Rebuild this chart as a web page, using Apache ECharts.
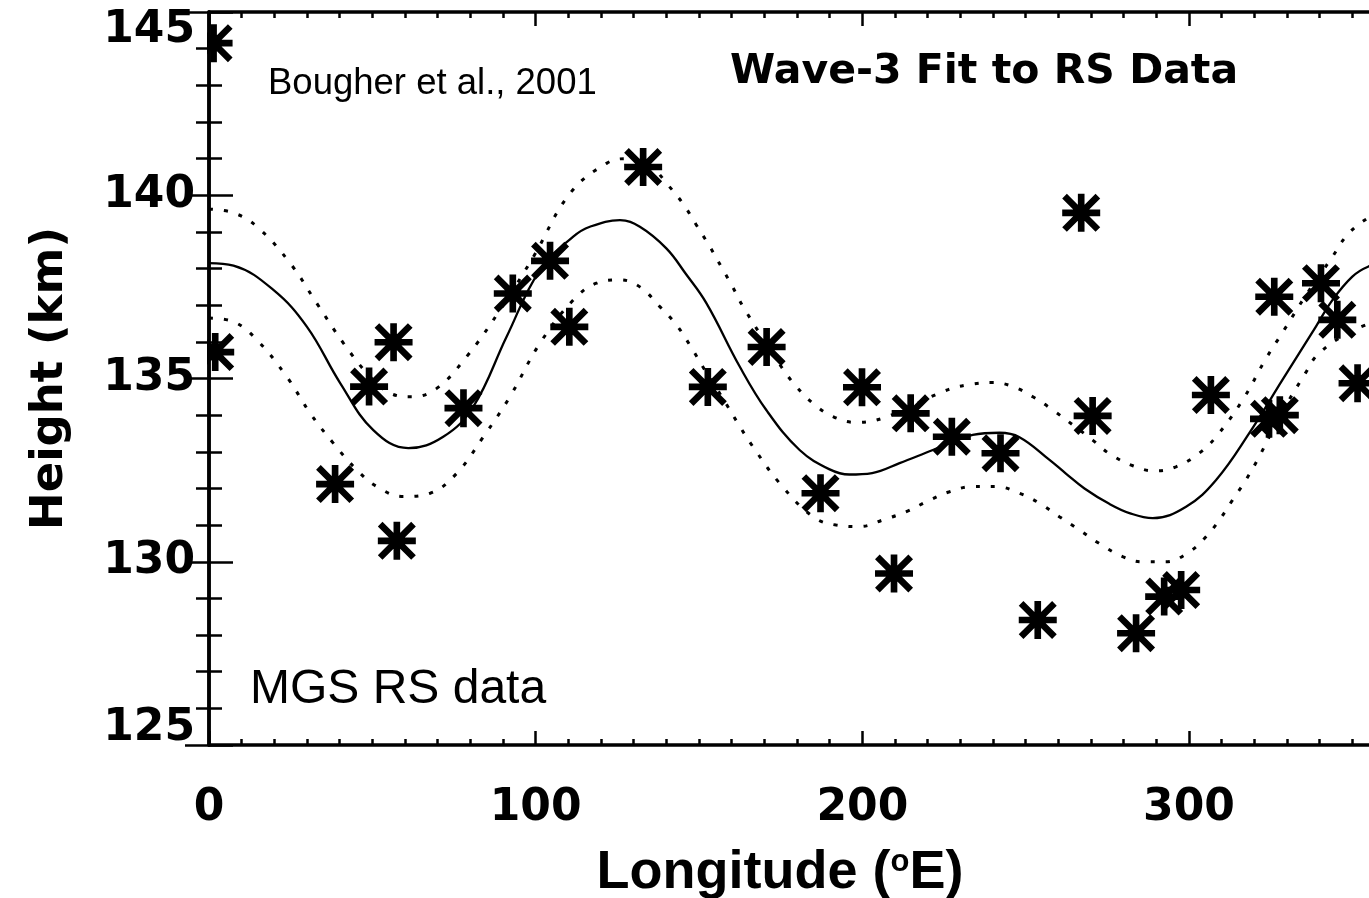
<!DOCTYPE html>
<html>
<head>
<meta charset="utf-8">
<script src="https://cdn.jsdelivr.net/npm/echarts@6/dist/echarts.min.js"></script>
<style>
html,body{margin:0;padding:0;background:#fff;}
#chart{width:1369px;height:898px;}
</style>
</head>
<body>
<div id="chart"></div>
<script>
// ---- data ----
const xTickLabels = [0, 100, 200, 300];
const yTickLabels = [125, 130, 135, 140, 145];

// RS observations [longitude (°E), height (km)]
const rsPoints = [
  [1.4, 144.15], [1.9, 135.72], [38.6, 132.12], [49.0, 134.78], [56.5, 135.99],
  [57.5, 130.57], [77.9, 134.19], [93.0, 137.32], [104.4, 138.21], [110.3, 136.41],
  [132.9, 140.77], [152.7, 134.77], [170.7, 135.86], [187.2, 131.87], [199.9, 134.76],
  [209.7, 129.68], [214.8, 134.05], [227.4, 133.41], [242.3, 132.96], [253.7, 128.41],
  [267.0, 139.52], [270.5, 133.98], [283.8, 128.05], [292.4, 129.05], [297.6, 129.23],
  [306.7, 134.55], [324.5, 133.90], [327.8, 134.00], [326.1, 137.23], [340.4, 137.60],
  [345.4, 136.60], [351.6, 134.87]
];

// Wave-3 fit (solid)
const fitCurve = [
  [0, 138.15], [7.5, 138.08], [19.8, 137.41], [30, 136.41], [40.2, 134.87],
  [50.3, 133.59], [61, 133.10], [71.7, 133.41], [80.9, 134.23], [91.1, 136.14],
  [101.3, 137.96], [111.5, 138.87], [116.6, 139.14], [125.8, 139.32], [131.9, 139.14],
  [140, 138.55], [146, 137.85], [152.3, 137.05], [162.5, 135.32], [170.6, 134.14],
  [180.8, 133.05], [190, 132.52], [196, 132.38], [203, 132.42], [211.4, 132.69], [221.6, 133.05],
  [233.8, 133.46], [242, 133.52], [248.1, 133.40], [257.3, 132.78], [262.4, 132.40],
  [268, 132.00], [275.6, 131.58], [282, 131.32], [288.9, 131.19], [299.1, 131.50],
  [308.3, 132.23], [318.4, 133.50], [328.6, 134.96], [338.8, 136.41], [343.9, 137.14],
  [350, 137.78], [354.8, 138.05], [360, 138.15]
];

// upper uncertainty bound (dotted)
const upperCurve = [
  [0, 139.62], [7.5, 139.52], [14.7, 139.14], [24.9, 138.14], [33, 137.05],
  [41.2, 135.96], [49.3, 135.05], [55.4, 134.60], [62.1, 134.50], [69.7, 134.73],
  [78.9, 135.60], [89.1, 136.87], [99.3, 138.32], [110.5, 140.05], [121.7, 140.87],
  [128, 141.00], [135, 140.80], [140.5, 140.28], [145.5, 139.72], [149.1, 139.20],
  [153.3, 138.60], [156.8, 138.05], [160.3, 137.50], [163.5, 136.96], [175.2, 135.32],
  [179.8, 134.78], [184.9, 134.32], [191, 133.96], [198.2, 133.80], [207.3, 133.95],
  [224.6, 134.64], [231.8, 134.82], [239.9, 134.89], [246.1, 134.78], [252.2, 134.50],
  [258.3, 134.14], [270.5, 133.32], [275.6, 132.95], [282.8, 132.62], [289.4, 132.48],
  [296, 132.59], [303.1, 132.96], [308.3, 133.41], [316.4, 134.41], [323.6, 135.55],
  [328.6, 136.25], [336, 137.30], [343.9, 138.32], [348, 138.87], [353.1, 139.28],
  [360, 139.62]
];

// lower uncertainty bound (dotted)
const lowerCurve = [
  [0, 136.65], [7.5, 136.55], [14.7, 136.05], [23.8, 135.05], [31, 134.05],
  [38.1, 133.23], [45.3, 132.50], [51.4, 132.05], [59.5, 131.78], [67.7, 131.87],
  [75.8, 132.41], [84, 133.41], [92.1, 134.50], [101.3, 135.96], [111.5, 137.14],
  [118.6, 137.60], [125.8, 137.69], [131.9, 137.50], [138, 136.96], [143.1, 136.46],
  [147.2, 135.91], [152, 135.20], [157, 134.50], [162.5, 133.69], [166.5, 133.14],
  [174.7, 132.14], [184.9, 131.23], [192, 131.00], [199.2, 130.96], [206.3, 131.14],
  [213.5, 131.37], [220.6, 131.68], [226.7, 131.91], [233.8, 132.05], [241, 132.05],
  [248.1, 131.87], [254.2, 131.60], [260.3, 131.23], [266.4, 130.87], [272.5, 130.50],
  [279.7, 130.14], [285.8, 130.00], [292.9, 130.00], [300.1, 130.27], [305.2, 130.68],
  [309.3, 131.14], [313.3, 131.68], [317.4, 132.23], [321.5, 132.87], [328, 134.00],
  [335.6, 135.14], [339.8, 135.69], [350, 136.30], [360, 136.65]
];

// ---- chart ----
const asterisk = 'path://M16.5,0L23.5,0L23.5,40L16.5,40Z M0,16.5L40,16.5L40,23.5L0,23.5Z ' +
  'M0,4.9L4.9,0L40,35.1L35.1,40Z M35.1,0L40,4.9L4.9,40L0,35.1Z';

const idlFont = 'DejaVu Sans';
const tickFont = { fontFamily: idlFont, fontWeight: 'bold', fontSize: 44, color: '#000' };
const axisLine = { show: true, lineStyle: { color: '#000', width: 3.5 } };

const chart = echarts.init(document.getElementById('chart'), null, { renderer: 'canvas' });
const gridBox = { left: 209, top: 12, right: -16, bottom: 153, containLabel: false, outerBoundsMode: 'none' };

chart.setOption({
  animation: false,
  backgroundColor: '#fff',
  grid: [Object.assign({}, gridBox), Object.assign({}, gridBox)],
  xAxis: [
    {
      gridIndex: 0, type: 'value', position: 'bottom', min: 0, max: 360, interval: 100, z: 10,
      axisLine: axisLine,
      axisTick: { show: true, inside: true, length: 14, lineStyle: { color: '#000', width: 2.5 } },
      splitLine: { show: false },
      axisLabel: Object.assign({ margin: 42, showMaxLabel: false,
        formatter: v => xTickLabels.indexOf(v) >= 0 ? String(v) : '' }, tickFont),
      name: 'Longitude ({s|o}E)', nameLocation: 'middle', nameGap: 101,
      nameTextStyle: {
        fontFamily: 'Liberation Sans', fontWeight: 'bold', fontSize: 54, color: '#000',
        padding: [0, 34, 0, 0],
        rich: { s: { fontFamily: 'Liberation Sans', fontWeight: 'bold', fontSize: 31, color: '#000', padding: [0, 0, 22, 0] } }
      }
    },
    {
      gridIndex: 0, type: 'value', position: 'top', min: 0, max: 360, interval: 100, z: 10,
      axisLine: axisLine,
      axisTick: { show: true, inside: true, length: 14, lineStyle: { color: '#000', width: 2.5 } },
      splitLine: { show: false }, axisLabel: { show: false }
    },
    {
      gridIndex: 1, type: 'value', position: 'bottom', min: 0, max: 360, interval: 10, z: 10,
      axisLine: { show: false },
      axisTick: { show: true, inside: true, length: 6, lineStyle: { color: '#000', width: 2.5 } },
      splitLine: { show: false }, axisLabel: { show: false }
    },
    {
      gridIndex: 1, type: 'value', position: 'top', min: 0, max: 360, interval: 10, z: 10,
      axisLine: { show: false },
      axisTick: { show: true, inside: true, length: 6, lineStyle: { color: '#000', width: 2.5 } },
      splitLine: { show: false }, axisLabel: { show: false }
    }
  ],
  yAxis: [
    {
      gridIndex: 0, type: 'value', position: 'left', min: 125, max: 145, interval: 5, z: 10,
      axisLine: axisLine,
      axisTick: { show: true, inside: true, length: 24, lineStyle: { color: '#000', width: 2.5 } },
      minorTick: { show: true, splitNumber: 5, length: 13, lineStyle: { color: '#000', width: 2.5 } },
      splitLine: { show: false }, minorSplitLine: { show: false },
      axisLabel: Object.assign({ margin: 14,
        formatter: v => v === yTickLabels[4] ? '{t|' + v + '}' : (v === yTickLabels[0] ? '{b|' + v + '}' : String(v)),
        rich: {
          t: Object.assign({ padding: [38, 0, 0, 0] }, tickFont),
          b: Object.assign({ padding: [0, 0, 32, 0] }, tickFont)
        }
      }, tickFont),
      name: 'Height (km)', nameLocation: 'middle', nameGap: 136,
      nameTextStyle: { fontFamily: idlFont, fontWeight: 'bold', fontSize: 45, color: '#000' }
    },
    {
      gridIndex: 0, type: 'value', position: 'right', min: 125, max: 145, interval: 5, z: 10,
      axisLine: axisLine,
      axisTick: { show: true, inside: true, length: 24, lineStyle: { color: '#000', width: 2.5 } },
      minorTick: { show: true, splitNumber: 5, length: 13, lineStyle: { color: '#000', width: 2.5 } },
      splitLine: { show: false }, minorSplitLine: { show: false }, axisLabel: { show: false }
    },
    {
      gridIndex: 1, type: 'value', min: 125, max: 145, show: false
    }
  ],
  graphic: [
    { type: 'rect', z: 5, shape: { x: 0, y: 0, width: 207, height: 898 }, style: { fill: '#fff' }, silent: true },
    { type: 'text', z: 20, x: 268, y: 84, style: { text: 'Bougher et al., 2001', fontFamily: 'Liberation Sans', fontSize: 36.5, fill: '#000', verticalAlign: 'middle' } },
    { type: 'text', z: 20, x: 250, y: 690, style: { text: 'MGS RS data', fontFamily: 'Liberation Sans', fontSize: 48, fill: '#000', verticalAlign: 'middle' } },
    { type: 'text', z: 20, x: 730, y: 72, style: { text: 'Wave-3 Fit to RS Data', fontFamily: idlFont, fontWeight: 'bold', fontSize: 41, fill: '#000', verticalAlign: 'middle' } }
  ],
  series: [
    {
      type: 'line', xAxisIndex: 0, yAxisIndex: 0, data: upperCurve, showSymbol: false, smooth: 0.4,
      lineStyle: { color: '#000', width: 3, type: [4, 11] }, z: 2
    },
    {
      type: 'line', xAxisIndex: 0, yAxisIndex: 0, data: lowerCurve, showSymbol: false, smooth: 0.4,
      lineStyle: { color: '#000', width: 3, type: [4, 11] }, z: 2
    },
    {
      type: 'line', xAxisIndex: 0, yAxisIndex: 0, data: fitCurve, showSymbol: false, smooth: 0.4,
      lineStyle: { color: '#000', width: 2.3 }, z: 2
    },
    {
      type: 'scatter', xAxisIndex: 0, yAxisIndex: 0, data: rsPoints, symbol: asterisk, symbolSize: 38,
      itemStyle: { color: '#000', opacity: 1 }, z: 3
    }
  ]
});
</script>
</body>
</html>
